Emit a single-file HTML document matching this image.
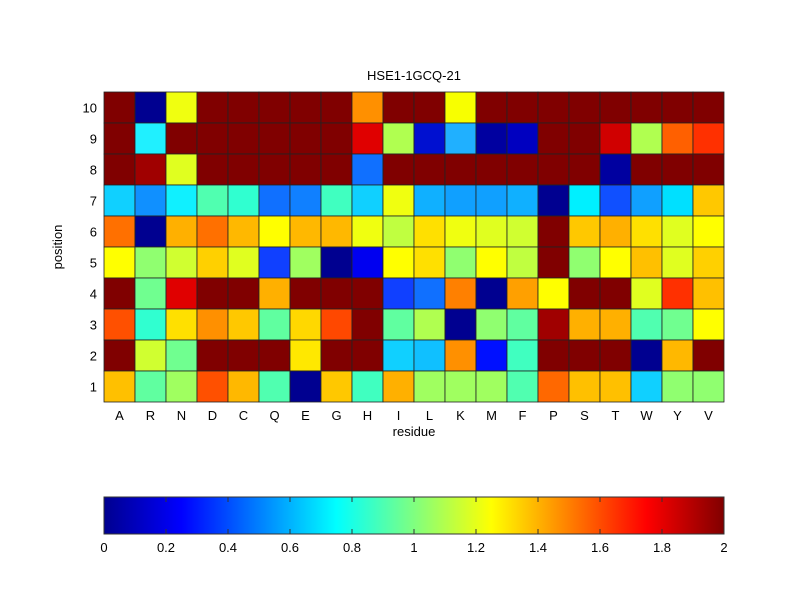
<!DOCTYPE html>
<html><head><meta charset="utf-8"><style>body{margin:0;background:#fff}svg{display:block}text{font-family:"Liberation Sans",Arial,sans-serif;font-size:13px;fill:#000}</style></head>
<body>
<svg id="s" width="800" height="600" xmlns="http://www.w3.org/2000/svg">
<defs><linearGradient id="jet" x1="0" x2="1" y1="0" y2="0">
<stop offset="0" stop-color="#00008f"/><stop offset="0.125" stop-color="#0000ff"/><stop offset="0.375" stop-color="#00ffff"/><stop offset="0.625" stop-color="#ffff00"/><stop offset="0.875" stop-color="#ff0000"/><stop offset="1" stop-color="#800000"/></linearGradient></defs>
<rect width="800" height="600" fill="#fff"/>
<g id="cells"></g>
<text x="414" y="80" text-anchor="middle">HSE1-1GCQ-21</text>
<g id="labels"></g>
<text x="414" y="436" text-anchor="middle">residue</text>
<text transform="translate(62,247) rotate(-90)" text-anchor="middle">position</text>
<rect x="104" y="497" width="620" height="37" fill="url(#jet)" stroke="#333" stroke-width="1"/>
<g id="cb"></g>
</svg>
<script>
var D="#800000",Nv="#000090";
var rows=[
[D,Nv,"#f0ff10",D,D,D,D,D,"#ff9000",D,D,"#f8ff00",D,D,D,D,D,D,D,D],
[D,"#20f0ff",D,D,D,D,D,D,"#e00000","#b0ff50","#0010d0","#20b0ff","#0000a0","#0000c0",D,D,"#d00000","#b0ff50","#ff6000","#ff3000"],
[D,"#a00000","#e0ff20",D,D,D,D,D,"#1070ff",D,D,D,D,D,D,D,"#0000a0",D,D,D],
["#10d0ff","#1090ff","#10f0ff","#50ffb0","#30ffd0","#1070ff","#1080ff","#40ffc0","#10d0ff","#f0ff10","#10b0ff","#10a0ff","#10a0ff","#10b0ff","#000090","#00f0ff","#1050ff","#10a0ff","#00e0ff","#ffc800"],
["#ff7000",Nv,"#ffb000","#ff7000","#ffb800","#ffff00","#ffb800","#ffb800","#f0ff10","#c0ff40","#ffe000","#f0ff10","#e0ff20","#d0ff30",D,"#ffc800","#ffb000","#ffe000","#e0ff20","#ffff00"],
["#ffff00","#90ff70","#d0ff30","#ffd000","#e0ff20","#1040ff","#a0ff60",Nv,"#0000f0","#ffff00","#ffe000","#90ff70","#ffff00","#c0ff40",D,"#90ff70","#ffff00","#ffc000","#e0ff20","#ffd000"],
[D,"#70ff90","#e00000",D,D,"#ffb000",D,D,D,"#1040ff","#1070ff","#ff8000",Nv,"#ffa000","#ffff00",D,D,"#e0ff20","#ff3000","#ffc000"],
["#ff5000","#30ffd0","#ffe000","#ff9000","#ffc800","#60ffa0","#ffd800","#ff4800",D,"#60ffa0","#b0ff50",Nv,"#90ff70","#60ffa0","#a00000","#ffb000","#ffb000","#50ffb0","#70ff90","#ffff00"],
[D,"#d0ff30","#70ff90",D,D,D,"#ffe800",D,D,"#10d0ff","#10c0ff","#ff9000","#0010ff","#40ffc0",D,D,D,Nv,"#ffb800",D],
["#ffc000","#60ffa0","#a0ff60","#ff5000","#ffb800","#50ffb0",Nv,"#ffc800","#40ffc0","#ffb000","#a0ff60","#a0ff60","#a0ff60","#50ffb0","#ff6800","#ffc000","#ffc000","#10d0ff","#90ff70","#90ff70"]];
var res="ARNDCQEGHILKMFPSTWYV".split("");
var h="",x0=104,y0=92,w=31,ht=31;
for(var r=0;r<10;r++)for(var c=0;c<20;c++)h+='<rect x="'+(x0+c*w)+'" y="'+(y0+r*ht)+'" width="'+w+'" height="'+ht+'" fill="'+rows[r][c]+'" stroke="#222" stroke-width="0.8"/>';
document.getElementById("cells").innerHTML=h;
var l="";
for(var c=0;c<20;c++)l+='<text x="'+(x0+c*w+w/2)+'" y="420" text-anchor="middle">'+res[c]+'</text>';
for(var r=0;r<10;r++)l+='<text x="97" y="'+(y0+r*ht+ht/2+5)+'" text-anchor="end">'+(10-r)+'</text>';
document.getElementById("labels").innerHTML=l;
var cb="",v=["0","0.2","0.4","0.6","0.8","1","1.2","1.4","1.6","1.8","2"];
for(var i=0;i<11;i++){var x=104+i*62;cb+='<text x="'+x+'" y="552" text-anchor="middle">'+v[i]+'</text>';if(i>0&&i<10)cb+='<line x1="'+x+'" x2="'+x+'" y1="497" y2="502" stroke="#333"/><line x1="'+x+'" x2="'+x+'" y1="529" y2="534" stroke="#333"/>';}
document.getElementById("cb").innerHTML=cb;
</script>
</body></html>
